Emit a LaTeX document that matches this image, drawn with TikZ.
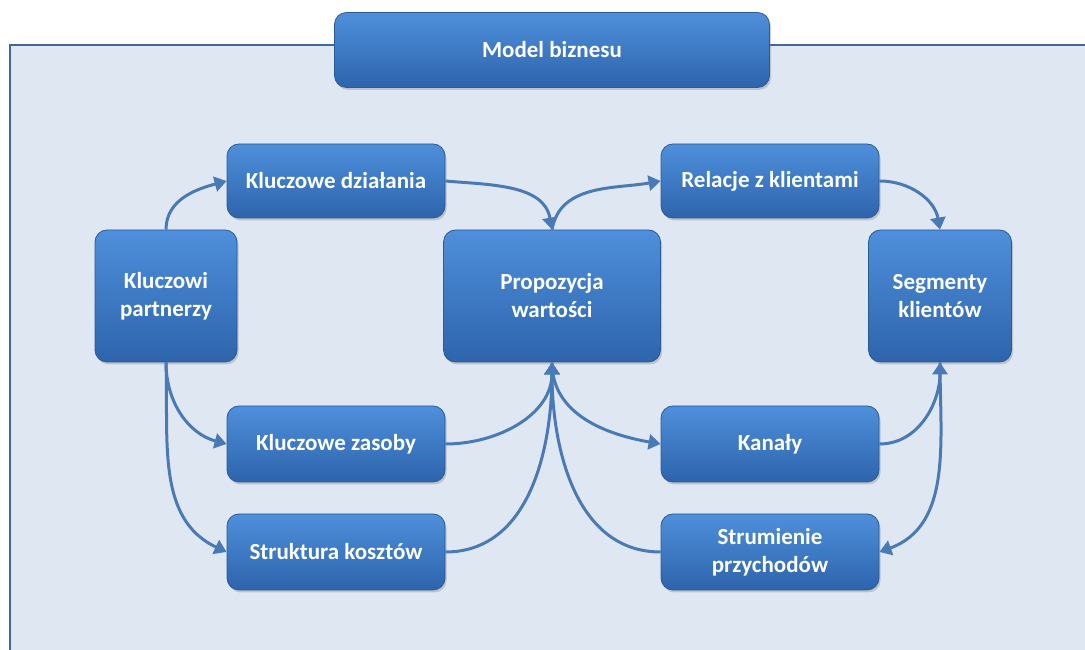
\documentclass[tikz,border=0pt]{standalone}
\usepackage{fontspec}
\setmainfont{Carlito}
\usetikzlibrary{arrows.meta,shadows}

\definecolor{panelfill}{HTML}{DFE7F2}
\definecolor{panelline}{HTML}{44679A}
\definecolor{boxtop}{HTML}{4F8FDB}
\definecolor{boxbottom}{HTML}{2D64AC}
\definecolor{boxline}{HTML}{2A5A97}
\definecolor{arrowblue}{HTML}{4A7AB5}

\begin{document}
\begin{tikzpicture}[x=1pt,y=1pt,
  >={Triangle[length=12pt,width=15pt]},
  box/.style={rounded corners=12pt,draw=boxline,line width=0.8pt,
    top color=boxtop,bottom color=boxbottom,text=white,align=center,
    font=\bfseries\fontsize{23}{28}\selectfont,
    drop shadow={opacity=0.35,shadow xshift=1.5pt,shadow yshift=-2.5pt}},
  link/.style={draw=arrowblue,line width=3pt}]
\useasboundingbox (0,0) rectangle (1085,650);
\fill[white] (0,0) rectangle (1085,650);
\draw[panelline,line width=2.5pt,fill=panelfill] (10,-10) rectangle (1095,605);

\node[box,minimum width=435pt,minimum height=75pt] (model) at (552,600) {Model biznesu};

\node[box,minimum width=218pt,minimum height=74pt] (dzialania) at (336,469) {Kluczowe działania};
\node[box,minimum width=218pt,minimum height=74pt] (relacje) at (770,469) {Relacje z klientami};
\node[box,minimum width=142pt,minimum height=132pt] (partnerzy) at (166,354) {Kluczowi\\partnerzy};
\node[box,minimum width=217pt,minimum height=132pt] (propozycja) at (552,354) {Propozycja\\wartości};
\node[box,minimum width=143pt,minimum height=132pt] (segmenty) at (940,354) {Segmenty\\klientów};
\node[box,minimum width=218pt,minimum height=76pt] (zasoby) at (336,206) {Kluczowe zasoby};
\node[box,minimum width=218pt,minimum height=76pt] (koszty) at (336,98) {Struktura kosztów};
\node[box,minimum width=218pt,minimum height=76pt] (kanaly) at (770,206) {Kanały};
\node[box,minimum width=218pt,minimum height=76pt] (strumienie) at (770,98) {Strumienie\\przychodów};

% top row
\draw[link,->] (partnerzy.north) to[out=90,in=195] (dzialania.west);
\draw[link,->] (dzialania.east) to[out=-5,in=100] (propozycja.north);
\draw[link,->] (propozycja.north) to[out=80,in=190] (relacje.west);
\draw[link,->] (relacje.east) to[out=0,in=100] (segmenty.north);

% bottom rows
\draw[link,->] (partnerzy.south) to[out=-90,in=165] (zasoby.west);
\draw[link,->] (partnerzy.south) to[out=-88,in=155] (koszty.west);
\draw[link,->] (zasoby.east) to[out=0,in=-90] (propozycja.south);
\draw[link,->] (koszty.east) to[out=0,in=-90] (propozycja.south);
\draw[link,->] (strumienie.west) to[out=180,in=-90] (propozycja.south);
\draw[link,->] (propozycja.south) to[out=-90,in=170] (kanaly.west);
\draw[link,->] (kanaly.east) to[out=0,in=-90] (segmenty.south);
\draw[link,->] (segmenty.south) to[out=-90,in=20] (strumienie.east);
\end{tikzpicture}
\end{document}
